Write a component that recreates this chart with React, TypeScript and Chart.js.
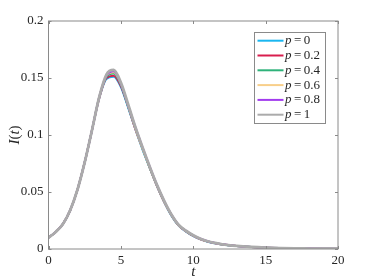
import React, { useEffect, useRef } from "react";
import { Chart, registerables } from "chart.js";

Chart.register(...registerables);

const tValues = [0, 0.5, 1, 1.5, 2, 2.5, 3, 3.5, 4, 4.5, 5, 5.5, 6, 6.5, 7, 7.5, 8, 8.5, 9, 9.5, 10, 10.5, 11, 11.5, 12, 13, 14, 15, 16, 17, 18, 19, 20];

const seriesP0 = [0.010, 0.015, 0.022, 0.034, 0.052, 0.076, 0.104, 0.132, 0.149, 0.151, 0.142, 0.124, 0.105, 0.087, 0.071, 0.055, 0.041, 0.029, 0.0203, 0.0153, 0.0114, 0.0085, 0.0064, 0.005, 0.0039, 0.0026, 0.0017, 0.0011, 0.0007, 0.0005, 0.0003, 0.0002, 0.0001];
const seriesP02 = [0.010, 0.015, 0.022, 0.034, 0.052, 0.076, 0.104, 0.132, 0.150, 0.152, 0.143, 0.125, 0.105, 0.088, 0.071, 0.055, 0.041, 0.0295, 0.0205, 0.0155, 0.0115, 0.0086, 0.0065, 0.0051, 0.004, 0.0026, 0.0017, 0.0011, 0.0008, 0.0005, 0.0003, 0.0002, 0.0001];
const seriesP04 = [0.010, 0.015, 0.022, 0.034, 0.052, 0.076, 0.104, 0.133, 0.151, 0.154, 0.144, 0.125, 0.106, 0.088, 0.071, 0.0555, 0.0415, 0.0297, 0.0207, 0.0157, 0.0117, 0.0087, 0.0066, 0.0052, 0.004, 0.0026, 0.0018, 0.0012, 0.0008, 0.0005, 0.0004, 0.0002, 0.0002];
const seriesP06 = [0.010, 0.015, 0.022, 0.034, 0.052, 0.076, 0.104, 0.133, 0.152, 0.155, 0.145, 0.126, 0.106, 0.088, 0.0715, 0.0557, 0.0417, 0.0298, 0.0208, 0.0158, 0.0118, 0.0088, 0.0067, 0.0052, 0.0041, 0.0027, 0.0018, 0.0012, 0.0008, 0.0005, 0.0004, 0.0003, 0.0002];
const seriesP08 = [0.010, 0.015, 0.022, 0.034, 0.052, 0.076, 0.104, 0.133, 0.152, 0.156, 0.145, 0.126, 0.107, 0.089, 0.072, 0.056, 0.042, 0.030, 0.021, 0.016, 0.012, 0.009, 0.0068, 0.0053, 0.0041, 0.0027, 0.0018, 0.0012, 0.0008, 0.0005, 0.0004, 0.0003, 0.0002];
const seriesP1 = [0.010, 0.015, 0.022, 0.034, 0.052, 0.076, 0.104, 0.133, 0.153, 0.157, 0.146, 0.127, 0.107, 0.089, 0.072, 0.056, 0.042, 0.030, 0.021, 0.016, 0.012, 0.009, 0.0068, 0.0053, 0.0041, 0.0027, 0.0018, 0.0012, 0.0008, 0.0005, 0.0004, 0.0003, 0.0002];

const seriesLabels = ["0", "0.2", "0.4", "0.6", "0.8", "1"];
const seriesColors = ["#1AB6F0", "#D81E4E", "#2FB27A", "#F8CF8A", "#A23CEE", "#ABABAB"];
const seriesWidths = [2, 2, 2, 2, 2, 2.8];
const allSeries = [seriesP0, seriesP02, seriesP04, seriesP06, seriesP08, seriesP1];

const xTicks = [0, 5, 10, 15, 20];
const xTickLabels = ["0", "5", "10", "15", "20"];
const yTicks = [0, 0.05, 0.1, 0.15, 0.2];
const yTickLabels = ["0", "0.05", "0.1", "0.15", "0.2"];

const SERIF = "'Liberation Serif', 'DejaVu Serif', serif";
const AXIS_COLOR = "#8a8a8a";
const TEXT_COLOR = "#262626";

const framePlugin = {
  id: "frame",
  afterDraw(chart: any) {
    const ctx = chart.ctx;
    const { left, right, top, bottom } = chart.chartArea;
    const xs = chart.scales.x;
    const ys = chart.scales.y;
    ctx.save();
    ctx.strokeStyle = AXIS_COLOR;
    ctx.lineWidth = 1;
    ctx.strokeRect(left, top, right - left, bottom - top);
    const tl = 3;
    ctx.beginPath();
    xTicks.forEach((v) => {
      const px = Math.round(xs.getPixelForValue(v)) + 0.5;
      ctx.moveTo(px, bottom);
      ctx.lineTo(px, bottom - tl);
      ctx.moveTo(px, top);
      ctx.lineTo(px, top + tl);
    });
    yTicks.forEach((v) => {
      const py = Math.round(ys.getPixelForValue(v)) + 0.5;
      ctx.moveTo(left, py);
      ctx.lineTo(left + tl, py);
      ctx.moveTo(right, py);
      ctx.lineTo(right - tl, py);
    });
    ctx.stroke();

    ctx.fillStyle = TEXT_COLOR;
    ctx.font = "italic 15px " + SERIF;
    ctx.textAlign = "center";
    ctx.textBaseline = "middle";
    ctx.fillText("t", (left + right) / 2, 272);
    ctx.save();
    ctx.translate(15, (top + bottom) / 2);
    ctx.rotate(-Math.PI / 2);
    const parts: [string, boolean][] = [["I", true], ["(", false], ["t", true], [")", false]];
    let total = 0;
    parts.forEach(([s, it]) => {
      ctx.font = (it ? "italic " : "") + "15px " + SERIF;
      total += ctx.measureText(s).width;
    });
    let cx = -total / 2;
    ctx.textAlign = "left";
    parts.forEach(([s, it]) => {
      ctx.font = (it ? "italic " : "") + "15px " + SERIF;
      ctx.fillText(s, cx, 0);
      cx += ctx.measureText(s).width;
    });
    ctx.restore();

    const lx = 254.5, ly = 32.5, lw = 71, lh = 91;
    ctx.fillStyle = "#ffffff";
    ctx.fillRect(lx, ly, lw, lh);
    ctx.strokeStyle = AXIS_COLOR;
    ctx.lineWidth = 1;
    ctx.strokeRect(lx, ly, lw, lh);
    chart.data.datasets.forEach((ds: any, i: number) => {
      const y = 40.7 + i * 14.8;
      ctx.strokeStyle = ds.borderColor;
      ctx.lineWidth = 2;
      ctx.beginPath();
      ctx.moveTo(257.5, y);
      ctx.lineTo(283.5, y);
      ctx.stroke();
      ctx.fillStyle = TEXT_COLOR;
      ctx.textAlign = "left";
      ctx.textBaseline = "middle";
      ctx.font = "italic 13px " + SERIF;
      let x = 285;
      ctx.fillText("p", x, y);
      x += ctx.measureText("p").width + 2.5;
      ctx.font = "13px " + SERIF;
      ctx.fillText("=", x, y);
      x += ctx.measureText("=").width + 2.5;
      ctx.fillText(seriesLabels[i], x, y);
    });
    ctx.restore();
  },
};

export default function App() {
  const ref = useRef<HTMLCanvasElement>(null);
  useEffect(() => {
    if (!ref.current) return;
    let chart: any = null;
    let cancelled = false;
    const build = () => {
      if (cancelled || !ref.current) return;
      chart = new Chart(ref.current, {
        type: "line",
        data: {
          datasets: allSeries.map((s, i) => ({
            label: "p = " + seriesLabels[i],
            data: tValues.map((t, j) => ({ x: t, y: s[j] })),
            borderColor: seriesColors[i],
            backgroundColor: seriesColors[i],
            borderWidth: seriesWidths[i],
            order: allSeries.length - 1 - i,
            pointRadius: 0,
            cubicInterpolationMode: "monotone" as const,
            fill: false,
          })),
        },
        options: {
          animation: false,
          responsive: false,
          layout: { padding: { left: 0.5, top: 21, right: 36, bottom: 0 } },
          plugins: { legend: { display: false }, tooltip: { enabled: false } },
          scales: {
            x: {
              type: "linear",
              min: 0,
              max: 20,
              afterBuildTicks: (scale: any) => {
                scale.ticks = xTicks.map((v) => ({ value: v }));
              },
              afterFit: (scale: any) => {
                scale.height = 31;
              },
              grid: { display: false, drawTicks: false },
              border: { display: false },
              ticks: {
                padding: 4,
                color: TEXT_COLOR,
                font: { family: SERIF, size: 13 },
                maxRotation: 0,
                callback: (_v: any, i: number) => xTickLabels[i],
              },
            },
            y: {
              type: "linear",
              min: 0,
              max: 0.2,
              afterBuildTicks: (scale: any) => {
                scale.ticks = yTicks.map((v) => ({ value: v }));
              },
              afterFit: (scale: any) => {
                scale.width = 48;
              },
              grid: { display: false, drawTicks: false },
              border: { display: false },
              ticks: {
                padding: 5,
                color: TEXT_COLOR,
                font: { family: SERIF, size: 13 },
                callback: (_v: any, i: number) => yTickLabels[i],
              },
            },
          },
        },
        plugins: [framePlugin],
      });
    };
    const fontsApi = (document as any).fonts;
    if (fontsApi && fontsApi.load) {
      Promise.all([
        fontsApi.load("13px 'Liberation Serif'"),
        fontsApi.load("italic 13px 'Liberation Serif'"),
      ]).then(build, build);
    } else {
      build();
    }
    return () => {
      cancelled = true;
      if (chart) chart.destroy();
    };
  }, []);
  return (
    <div style={{ position: "fixed", left: 0, top: 0, width: 374, height: 280, background: "#fff" }}>
      <canvas ref={ref} width={374} height={280} style={{ width: 374, height: 280 }} />
    </div>
  );
}
